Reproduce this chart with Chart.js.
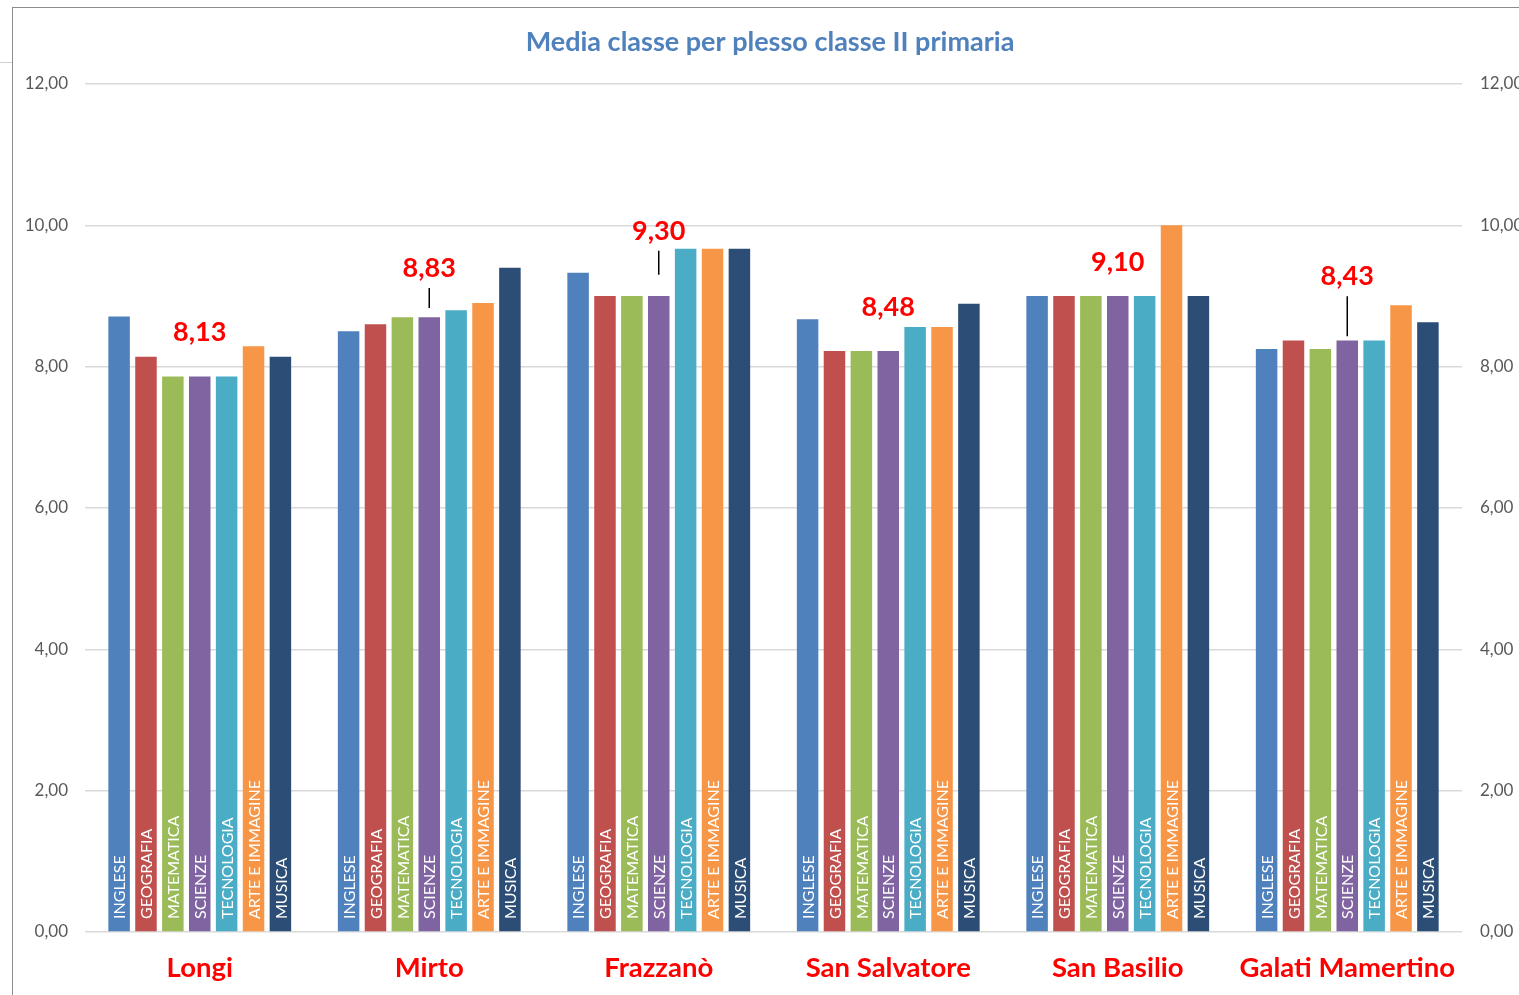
<!DOCTYPE html>
<html lang="it">
<head>
<meta charset="utf-8">
<title>Media classe per plesso classe II primaria</title>
<script src="https://cdn.jsdelivr.net/npm/chart.js@4.4.1/dist/chart.umd.min.js"></script>
<style>
    html, body { margin: 0; padding: 0; background: #fff; overflow: hidden; }
    #wrap { position: absolute; left: 0; top: 0; width: 1540px; height: 995px; }
    #frame { position: absolute; left: 12px; top: 7px; width: 2000px; height: 2000px;
             border-left: 1.5px solid #8c8c8c; border-top: 1.5px solid #8c8c8c; pointer-events: none; }
    #stub { position: absolute; left: 0; top: 62px; width: 12px; height: 1px; background: #d0d0d0; }
</style>
</head>
<body>
<div id="wrap">
    <canvas id="chart" width="1540" height="995"></canvas>
</div>
<div id="stub"></div>
<div id="frame"></div>
<script>
// Plessi (categorie) e materie (serie)
const plessi = ["Longi", "Mirto", "Frazzanò", "San Salvatore", "San Basilio", "Galati Mamertino"];
const materie = ["INGLESE", "GEOGRAFIA", "MATEMATICA", "SCIENZE", "TECNOLOGIA", "ARTE E IMMAGINE", "MUSICA"];

// Valori, uno per plesso
const inglese    = [8.71, 8.50, 9.33, 8.67, 9.00, 8.25];
const geografia  = [8.14, 8.60, 9.00, 8.22, 9.00, 8.37];
const matematica = [7.86, 8.70, 9.00, 8.22, 9.00, 8.25];
const scienze    = [7.86, 8.70, 9.00, 8.22, 9.00, 8.37];
const tecnologia = [7.86, 8.80, 9.67, 8.56, 9.00, 8.37];
const arte       = [8.29, 8.90, 9.67, 8.56, 10.00, 8.87];
const musica     = [8.14, 9.40, 9.67, 8.89, 9.00, 8.63];

// Media di plesso (etichette rosse)
const medie = [8.13, 8.83, 9.30, 8.48, 9.10, 8.43];

// Tick dell'asse y
const yTicks = [0, 2, 4, 6, 8, 10, 12];

const colori = ["#4F81BD", "#C0504D", "#9BBB59", "#8064A2", "#4BACC6", "#F79646", "#2C4D75"];
const serie = [inglese, geografia, matematica, scienze, tecnologia, arte, musica];

const FONT = "Lato, 'Open Sans', sans-serif";

function fmt(v) {
    return v.toFixed(2).replace(".", ",");
}

// Nomi delle materie scritti in verticale alla base di ogni barra
const barLabels = {
    id: "barLabels",
    afterDatasetsDraw(chart) {
        const ctx = chart.ctx;
        const base = chart.scales.y.getPixelForValue(0);
        ctx.save();
        ctx.fillStyle = "#ffffff";
        ctx.font = "16px " + FONT;
        ctx.textAlign = "left";
        ctx.textBaseline = "middle";
        chart.data.datasets.forEach((ds, i) => {
            if (ds.type === "line") return;
            const meta = chart.getDatasetMeta(i);
            meta.data.forEach((bar) => {
                ctx.save();
                ctx.translate(bar.x + 1, base - 13);
                ctx.rotate(-Math.PI / 2);
                ctx.fillText(ds.label, 0, 0);
                ctx.restore();
            });
        });
        ctx.restore();
    },
};

// Etichette rosse della media, con linea guida quando sono spostate in alto
const mediaLabels = {
    id: "mediaLabels",
    afterDatasetsDraw(chart, args, opts) {
        const ctx = chart.ctx;
        const idx = chart.data.datasets.findIndex((d) => d.type === "line");
        const meta = chart.getDatasetMeta(idx);
        ctx.save();
        meta.data.forEach((pt, j) => {
            const lift = opts.lift[j];
            const y = pt.y - lift;
            if (lift > 30) {
                ctx.strokeStyle = "#000000";
                ctx.lineWidth = 1.5;
                ctx.beginPath();
                ctx.moveTo(pt.x, y + 20);
                ctx.lineTo(pt.x, pt.y);
                ctx.stroke();
            }
            ctx.fillStyle = "#FF0000";
            ctx.font = "bold 27px " + FONT;
            ctx.textAlign = "center";
            ctx.textBaseline = "middle";
            ctx.fillText(fmt(chart.data.datasets[idx].data[j]), pt.x, y);
        });
        ctx.restore();
    },
};

const datasets = materie.map((m, i) => ({
    type: "bar",
    label: m,
    data: serie[i],
    backgroundColor: colori[i],
    borderWidth: 0,
    yAxisID: "y",
}));

datasets.push({
    type: "line",
    label: "Media",
    data: medie,
    showLine: false,
    pointRadius: 0,
    yAxisID: "y",
});

const tickOpts = {
    color: "#595959",
    font: { family: FONT, size: 17 },
    stepSize: 2,
    callback: (v) => fmt(v),
};

new Chart(document.getElementById("chart").getContext("2d"), {
    type: "bar",
    data: { labels: plessi, datasets: datasets },
    plugins: [barLabels, mediaLabels],
    options: {
        responsive: false,
        animation: false,
        layout: { padding: 0 },
        datasets: { bar: { categoryPercentage: 0.82, barPercentage: 0.8 } },
        plugins: {
            legend: { display: false },
            tooltip: { enabled: false },
            title: {
                display: true,
                text: "Media classe per plesso classe II primaria",
                color: "#4F81BD",
                font: { family: FONT, size: 27, weight: "bold" },
                padding: { top: 26, bottom: 25.6 },
            },
            mediaLabels: { lift: [25, 40, 44, 25, 27, 60] },
        },
        scales: {
            x: {
                grid: { display: false },
                border: { display: false },
                ticks: {
                    color: "#FF0000",
                    font: { family: FONT, size: 27.5, weight: "bold" },
                    padding: 12,
                    maxRotation: 0,
                },
                afterFit: (s) => { s.height = 63; },
            },
            y: {
                position: "left",
                min: yTicks[0],
                max: yTicks[yTicks.length - 1],
                grid: { color: "#d9d9d9", lineWidth: 1.5, drawTicks: false },
                border: { display: false },
                ticks: Object.assign({ padding: 17 }, tickOpts),
                afterFit: (s) => { s.width = 85; },
            },
            y2: {
                position: "right",
                min: yTicks[0],
                max: yTicks[yTicks.length - 1],
                grid: { drawOnChartArea: false, drawTicks: false },
                border: { display: false },
                ticks: Object.assign({ padding: 18 }, tickOpts),
                afterFit: (s) => { s.width = 78; },
            },
        },
    },
});
</script>
</body>
</html>
